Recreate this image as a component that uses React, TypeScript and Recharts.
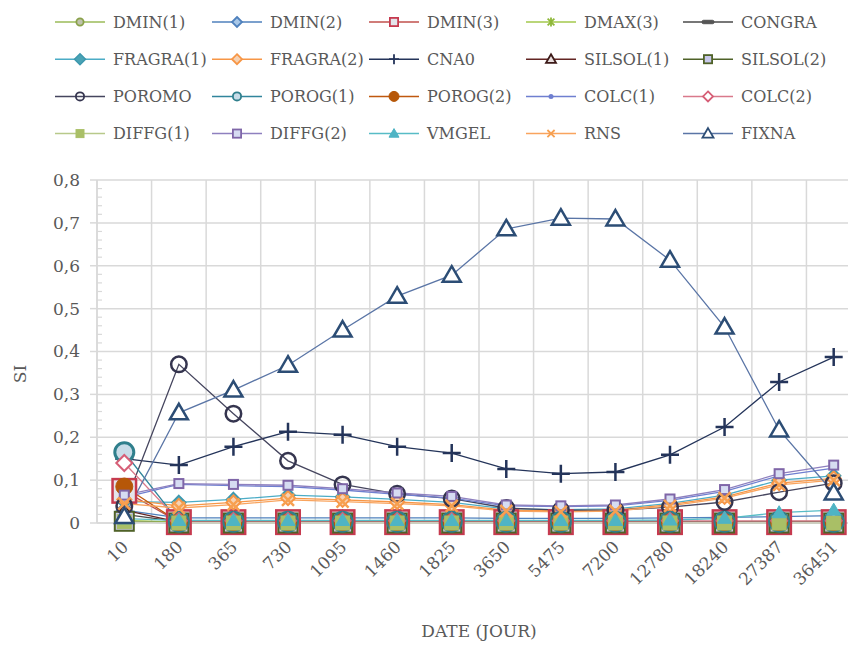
import React from 'react';
import { LineChart, Line, XAxis, YAxis, CartesianGrid, Legend } from 'recharts';

// Sampling dates (days)
const DAYS = ['10', '180', '365', '730', '1095', '1460', '1825', '3650', '5475', '7200', '12780', '18240', '27387', '36451'];

// Sensitivity index per parameter, one value per date
const DMIN_1 = [0.004, 0.003, 0.003, 0.003, 0.003, 0.003, 0.003, 0.003, 0.003, 0.003, 0.003, 0.003, 0.004, 0.004];
const DMIN_2 = [0.03, 0.012, 0.012, 0.012, 0.012, 0.012, 0.012, 0.011, 0.011, 0.011, 0.012, 0.013, 0.015, 0.017];
const DMIN_3 = [0.075, 0.002, 0.002, 0.002, 0.002, 0.002, 0.002, 0.002, 0.002, 0.002, 0.002, 0.002, 0.002, 0.002];
const DMAX_3 = [0.006, 0.002, 0.002, 0.002, 0.002, 0.002, 0.002, 0.002, 0.002, 0.002, 0.002, 0.002, 0.002, 0.002];
const CONGRA = [0.02, 0.003, 0.003, 0.003, 0.003, 0.003, 0.003, 0.003, 0.003, 0.003, 0.003, 0.003, 0.003, 0.003];
const FRAGRA_1 = [0.05, 0.048, 0.055, 0.065, 0.061, 0.055, 0.048, 0.033, 0.031, 0.033, 0.046, 0.065, 0.1, 0.11];
const FRAGRA_2 = [0.055, 0.04, 0.048, 0.058, 0.054, 0.049, 0.043, 0.03, 0.028, 0.03, 0.043, 0.061, 0.093, 0.104];
const CNA0 = [0.15, 0.135, 0.178, 0.213, 0.206, 0.178, 0.163, 0.126, 0.115, 0.119, 0.159, 0.224, 0.329, 0.387];
const SILSOL_1 = [0.03, 0.002, 0.002, 0.002, 0.002, 0.002, 0.002, 0.002, 0.002, 0.002, 0.002, 0.002, 0.002, 0.002];
const SILSOL_2 = [0.004, 0.0, 0.0, 0.0, 0.0, 0.0, 0.0, 0.0, 0.0, 0.0, 0.0, 0.0, 0.0, 0.0];
const POROMO = [0.04, 0.37, 0.255, 0.145, 0.09, 0.068, 0.057, 0.035, 0.03, 0.03, 0.037, 0.049, 0.072, 0.093];
const POROG_1 = [0.165, 0.003, 0.003, 0.003, 0.003, 0.003, 0.003, 0.003, 0.003, 0.003, 0.003, 0.003, 0.003, 0.003];
const POROG_2 = [0.085, 0.002, 0.002, 0.002, 0.002, 0.002, 0.002, 0.002, 0.002, 0.002, 0.002, 0.002, 0.002, 0.002];
const COLC_1 = [0.06, 0.09, 0.087, 0.085, 0.077, 0.067, 0.058, 0.04, 0.038, 0.04, 0.053, 0.074, 0.11, 0.128];
const COLC_2 = [0.14, 0.005, 0.005, 0.005, 0.005, 0.005, 0.005, 0.005, 0.005, 0.005, 0.005, 0.005, 0.005, 0.005];
const DIFFG_1 = [0.003, 0.0, 0.0, 0.0, 0.0, 0.0, 0.0, 0.0, 0.0, 0.0, 0.0, 0.0, 0.0, 0.0];
const DIFFG_2 = [0.065, 0.092, 0.09, 0.088, 0.08, 0.07, 0.062, 0.042, 0.04, 0.042, 0.056, 0.078, 0.115, 0.135];
const VMGEL = [0.01, 0.006, 0.006, 0.006, 0.006, 0.006, 0.006, 0.006, 0.006, 0.006, 0.007, 0.011, 0.024, 0.03];
const RNS = [0.045, 0.035, 0.043, 0.054, 0.05, 0.045, 0.04, 0.028, 0.026, 0.028, 0.04, 0.058, 0.089, 0.1];
const FIXNA = [0.015, 0.257, 0.31, 0.368, 0.45, 0.529, 0.578, 0.686, 0.711, 0.709, 0.613, 0.457, 0.217, 0.07];

// Y axis labels (major) and minor tick marks
const Y_MAJOR = [0, 0.1, 0.2, 0.3, 0.4, 0.5, 0.6, 0.7, 0.8];
const Y_ALL = Array.from({ length: 41 }, (_, i) => Math.round(i * 2) / 100);

const FONT = '"DejaVu Serif", serif';
const TEXT = '#595959';
const GRID = '#d9d9d9';

type Shape = 'circle' | 'diamond' | 'square' | 'triangle' | 'plus' | 'cross' | 'star' | 'dash' | 'dot';

interface SeriesDef {
  key: string;
  name: string;
  values: number[];
  line: string;
  shape: Shape;
  size: number;
  legendSize: number;
  fill: string;
  stroke: string;
  sw: number;
}

const SERIES: SeriesDef[] = [
  { key: 'dmin1', name: 'DMIN(1)', values: DMIN_1, line: '#9bbb59', shape: 'circle', size: 14, legendSize: 9, fill: '#bfc3ad', stroke: '#8aa14a', sw: 2 },
  { key: 'dmin2', name: 'DMIN(2)', values: DMIN_2, line: '#4f81bd', shape: 'diamond', size: 15, legendSize: 10, fill: '#a9c8e8', stroke: '#4f81bd', sw: 2 },
  { key: 'dmin3', name: 'DMIN(3)', values: DMIN_3, line: '#c0504d', shape: 'square', size: 26, legendSize: 10, fill: '#e4e4ea', stroke: '#c63a4f', sw: 2.5 },
  { key: 'dmax3', name: 'DMAX(3)', values: DMAX_3, line: '#a3c84c', shape: 'star', size: 12, legendSize: 9, fill: 'none', stroke: '#8fb83a', sw: 2 },
  { key: 'congra', name: 'CONGRA', values: CONGRA, line: '#4a4a4a', shape: 'dash', size: 13, legendSize: 12, fill: '#555555', stroke: '#555555', sw: 1 },
  { key: 'fragra1', name: 'FRAGRA(1)', values: FRAGRA_1, line: '#4bacc6', shape: 'diamond', size: 14, legendSize: 11, fill: '#4aa3b5', stroke: '#3d98ae', sw: 1.5 },
  { key: 'fragra2', name: 'FRAGRA(2)', values: FRAGRA_2, line: '#f79646', shape: 'diamond', size: 14, legendSize: 10, fill: '#f6d2b4', stroke: '#f79646', sw: 2 },
  { key: 'cna0', name: 'CNA0', values: CNA0, line: '#24345a', shape: 'plus', size: 18, legendSize: 10, fill: 'none', stroke: '#24345a', sw: 2.5 },
  { key: 'silsol1', name: 'SILSOL(1)', values: SILSOL_1, line: '#632523', shape: 'triangle', size: 14, legendSize: 10, fill: '#e8dede', stroke: '#3c1a18', sw: 2 },
  { key: 'silsol2', name: 'SILSOL(2)', values: SILSOL_2, line: '#4f6228', shape: 'square', size: 21, legendSize: 10, fill: '#c8c8ea', stroke: '#4f6228', sw: 2 },
  { key: 'poromo', name: 'POROMO', values: POROMO, line: '#45455e', shape: 'circle', size: 18, legendSize: 10, fill: 'none', stroke: '#35354f', sw: 2.5 },
  { key: 'porog1', name: 'POROG(1)', values: POROG_1, line: '#31859c', shape: 'circle', size: 22, legendSize: 10, fill: '#c8dce8', stroke: '#2f7f8c', sw: 3 },
  { key: 'porog2', name: 'POROG(2)', values: POROG_2, line: '#c0580f', shape: 'circle', size: 18, legendSize: 11, fill: '#b65708', stroke: '#b65708', sw: 1 },
  { key: 'colc1', name: 'COLC(1)', values: COLC_1, line: '#6f7fd0', shape: 'dot', size: 5, legendSize: 5, fill: '#6f7fd0', stroke: '#6f7fd0', sw: 1 },
  { key: 'colc2', name: 'COLC(2)', values: COLC_2, line: '#d9798b', shape: 'diamond', size: 16, legendSize: 10, fill: '#ffffff', stroke: '#d65e76', sw: 2 },
  { key: 'diffg1', name: 'DIFFG(1)', values: DIFFG_1, line: '#b8c98a', shape: 'square', size: 15, legendSize: 9, fill: '#a9bf66', stroke: '#a9bf66', sw: 1 },
  { key: 'diffg2', name: 'DIFFG(2)', values: DIFFG_2, line: '#8e80bf', shape: 'square', size: 11, legendSize: 10, fill: '#d6dcf2', stroke: '#7f66a8', sw: 2 },
  { key: 'vmgel', name: 'VMGEL', values: VMGEL, line: '#57bcc6', shape: 'triangle', size: 14, legendSize: 10, fill: '#4fb4c4', stroke: '#4fb4c4', sw: 1 },
  { key: 'rns', name: 'RNS', values: RNS, line: '#f9a45e', shape: 'cross', size: 15, legendSize: 9, fill: 'none', stroke: '#f7a050', sw: 2.5 },
  { key: 'fixna', name: 'FIXNA', values: FIXNA, line: '#5a75a6', shape: 'triangle', size: 18, legendSize: 11, fill: '#ffffff', stroke: '#2c4d75', sw: 2.5 },
];

const data = DAYS.map((day, i) => {
  const row: Record<string, string | number> = { day };
  SERIES.forEach((s) => {
    row[s.key] = s.values[i];
  });
  return row;
});

interface MarkerProps {
  shape: Shape;
  cx: number;
  cy: number;
  size: number;
  fill: string;
  stroke: string;
  sw: number;
}

function Marker({ shape, cx, cy, size, fill, stroke, sw }: MarkerProps) {
  const h = size / 2;
  switch (shape) {
    case 'circle':
      return <circle cx={cx} cy={cy} r={h - sw / 2} fill={fill} stroke={stroke} strokeWidth={sw} />;
    case 'diamond':
      return (
        <polygon
          points={`${cx},${cy - h} ${cx + h},${cy} ${cx},${cy + h} ${cx - h},${cy}`}
          fill={fill}
          stroke={stroke}
          strokeWidth={sw}
        />
      );
    case 'square':
      return (
        <rect x={cx - h + sw / 2} y={cy - h + sw / 2} width={size - sw} height={size - sw} fill={fill} stroke={stroke} strokeWidth={sw} />
      );
    case 'triangle':
      return (
        <polygon
          points={`${cx},${cy - h} ${cx + h},${cy + h * 0.72} ${cx - h},${cy + h * 0.72}`}
          fill={fill}
          stroke={stroke}
          strokeWidth={sw}
          strokeLinejoin="miter"
        />
      );
    case 'plus':
      return <path d={`M${cx - h},${cy}H${cx + h}M${cx},${cy - h}V${cy + h}`} stroke={stroke} strokeWidth={sw} fill="none" />;
    case 'cross':
      return (
        <path
          d={`M${cx - h * 0.8},${cy - h * 0.8}L${cx + h * 0.8},${cy + h * 0.8}M${cx + h * 0.8},${cy - h * 0.8}L${cx - h * 0.8},${cy + h * 0.8}`}
          stroke={stroke}
          strokeWidth={sw}
          fill="none"
        />
      );
    case 'star':
      return (
        <path
          d={`M${cx - h * 0.75},${cy - h * 0.75}L${cx + h * 0.75},${cy + h * 0.75}M${cx + h * 0.75},${cy - h * 0.75}L${cx - h * 0.75},${cy + h * 0.75}M${cx},${cy - h}V${cy + h}`}
          stroke={stroke}
          strokeWidth={sw}
          fill="none"
        />
      );
    case 'dash':
      return <rect x={cx - h} y={cy - size / 7} width={size} height={(size * 2) / 7} rx={1.5} fill={fill} stroke={stroke} strokeWidth={sw} />;
    case 'dot':
    default:
      return <circle cx={cx} cy={cy} r={h} fill={fill} stroke="none" />;
  }
}

const makeDot = (s: SeriesDef) => (p: any) => {
  const { cx, cy, index } = p;
  if (cx == null || cy == null) return <g key={`${s.key}-${index}`} />;
  return (
    <g key={`${s.key}-${index}`}>
      <Marker shape={s.shape} cx={cx} cy={cy} size={s.size} fill={s.fill} stroke={s.stroke} sw={s.sw} />
    </g>
  );
};

const SERIES_INDEX: Record<string, number> = {};
SERIES.forEach((s, i) => {
  SERIES_INDEX[s.key] = i;
});

// Legend: 4 rows of 5 entries, line sample with marker then name
const renderLegend = (props: any) => {
  const payload: any[] = (props && props.payload) || [];
  const items = [...payload].sort((a, b) => (SERIES_INDEX[a.dataKey] ?? 0) - (SERIES_INDEX[b.dataKey] ?? 0));
  return (
    <svg width={848} height={160} style={{ display: 'block' }}>
      {items.map((entry, i) => {
        const s = SERIES[SERIES_INDEX[entry.dataKey] ?? i];
        const col = i % 5;
        const row = Math.floor(i / 5);
        const x0 = 55 + col * 157;
        const y0 = 22 + row * 37.2;
        const msw = Math.min(s.sw, 1.8);
        return (
          <g key={s.key}>
            <line x1={x0} x2={x0 + 50} y1={y0} y2={y0} stroke={s.line} strokeWidth={1.5} />
            <Marker shape={s.shape} cx={x0 + 25} cy={y0} size={s.legendSize} fill={s.fill} stroke={s.stroke} sw={msw} />
            <text x={x0 + 58} y={y0} dy="0.36em" fill={TEXT} fontSize={16} fontFamily={FONT}>
              {entry.value}
            </text>
          </g>
        );
      })}
    </svg>
  );
};

const fmtY = (v: number) => (v === 0 ? '0' : v.toFixed(1).replace('.', ','));

const YTick = (props: any) => {
  const { x, y, payload } = props;
  const v: number = payload.value;
  const axisX = x + 17;
  const isMajor = Math.abs(v * 10 - Math.round(v * 10)) < 1e-6;
  if (!isMajor) {
    return <line x1={axisX} x2={axisX + 5} y1={y} y2={y} stroke={GRID} strokeWidth={1.2} />;
  }
  return (
    <g>
      <line x1={axisX - 7} x2={axisX} y1={y} y2={y} stroke={GRID} strokeWidth={1.5} />
      <text x={x} y={y} dy="0.35em" textAnchor="end" fill={TEXT} fontSize={17} fontFamily={FONT}>
        {fmtY(v)}
      </text>
    </g>
  );
};

const XTick = (props: any) => {
  const { x, y, payload } = props;
  const ax = x + 5;
  const ay = y + 17;
  return (
    <text x={ax} y={ay} transform={`rotate(-45 ${ax} ${ay})`} textAnchor="end" fill={TEXT} fontSize={17} fontFamily={FONT}>
      {payload.value}
    </text>
  );
};

// Vertical grid lines sit on the category boundaries (one band per date)
const verticalBoundaries = (props: any) => {
  const off = props && props.offset;
  if (!off || typeof off.left !== 'number' || typeof off.width !== 'number') return [];
  const band = off.width / DAYS.length;
  return Array.from({ length: DAYS.length + 1 }, (_, i) => off.left + i * band);
};

export default function App() {
  return (
    <div style={{ position: 'absolute', left: 0, top: 0, width: 848, height: 646, overflow: 'hidden', background: '#ffffff' }}>
      <LineChart width={880} height={646} data={data} margin={{ top: 180, right: 19, bottom: 0, left: 0 }}>
        <CartesianGrid
          stroke={GRID}
          strokeWidth={1.5}
          horizontalValues={Y_MAJOR}
          verticalCoordinatesGenerator={verticalBoundaries}
        />
        <XAxis
          dataKey="day"
          type="category"
          height={123}
          interval={0}
          padding={{ left: 27.3, right: 27.3 }}
          tickLine={false}
          axisLine={{ stroke: GRID, strokeWidth: 1.5 }}
          tick={<XTick />}
          label={(p: any) => {
            const vb = p.viewBox || { x: 97, width: 764 };
            return (
              <text x={vb.x + vb.width / 2} y={637} textAnchor="middle" fill={TEXT} fontSize={17} fontFamily={FONT}>
                DATE (JOUR)
              </text>
            );
          }}
        />
        <YAxis
          type="number"
          width={97}
          domain={[0, 0.8]}
          ticks={Y_ALL}
          interval={0}
          tickSize={7}
          tickMargin={10}
          tickLine={false}
          axisLine={{ stroke: GRID, strokeWidth: 1.5 }}
          tick={<YTick />}
          label={() => (
            <text x={20} y={374} transform="rotate(-90 20 374)" textAnchor="middle" dy="0.35em" fill={TEXT} fontSize={17} fontFamily={FONT}>
              SI
            </text>
          )}
        />
        <Legend
          layout="horizontal"
          align="center"
          verticalAlign="middle"
          width={848}
          height={160}
          wrapperStyle={{ left: 0, top: 0, width: 848, height: 160 }}
          content={renderLegend}
        />
        {SERIES.map((s) => (
          <Line
            key={s.key}
            dataKey={s.key}
            name={s.name}
            type="linear"
            stroke={s.line}
            strokeWidth={1.3}
            dot={makeDot(s)}
            activeDot={false}
            isAnimationActive={false}
          />
        ))}
      </LineChart>
    </div>
  );
}
